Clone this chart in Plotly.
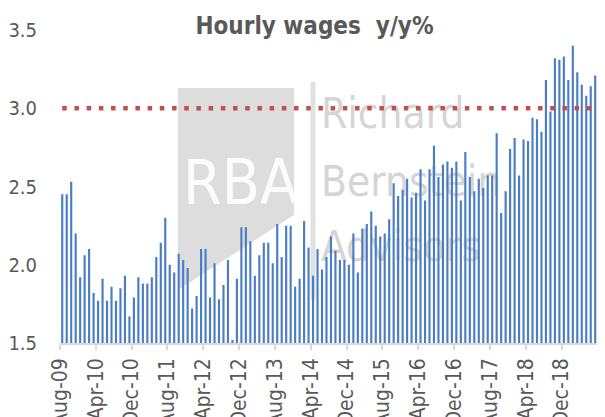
import plotly.graph_objects as go

# ---- data (Aug-09 .. Jul-19, monthly) ----
WAGES_YY = [
    2.45, 2.45, 2.53, 2.20, 1.92, 2.06, 2.10, 1.82, 1.77, 1.91, 1.77, 1.86,
    1.77, 1.85, 1.93, 1.67, 1.79, 1.92, 1.88, 1.88, 1.92, 2.05, 2.14, 2.30,
    2.00, 1.95, 2.07, 2.03, 1.98, 1.72, 1.80, 2.10, 2.10, 1.79, 2.01, 1.78,
    1.87, 2.03, 1.52, 1.91, 2.24, 2.24, 2.15, 1.93, 2.06, 2.14, 2.14, 2.01,
    2.26, 2.05, 2.25, 2.25, 1.86, 1.91, 2.28, 2.11, 1.93, 2.10, 1.97, 2.05,
    2.18, 2.09, 2.03, 2.03, 2.00, 2.20, 1.95, 2.23, 2.26, 2.34, 2.25, 2.18,
    2.20, 2.29, 2.52, 2.44, 2.48, 2.55, 2.43, 2.46, 2.61, 2.41, 2.61, 2.76,
    2.56, 2.64, 2.66, 2.62, 2.66, 2.41, 2.72, 2.56, 2.47, 2.55, 2.49, 2.57,
    2.57, 2.84, 2.33, 2.47, 2.74, 2.81, 2.57, 2.80, 2.79, 2.94, 2.93, 2.85,
    3.18, 2.98, 3.32, 3.31, 3.33, 3.18, 3.40, 3.23, 3.15, 3.08, 3.14, 3.21,
]
THRESHOLD = 3.0
TICK_EVERY = 8
TICK_LABELS = ["Aug-09", "Apr-10", "Dec-10", "Aug-11", "Apr-12", "Dec-12",
               "Aug-13", "Apr-14", "Dec-14", "Aug-15", "Apr-16", "Dec-16",
               "Aug-17", "Apr-18", "Dec-18"]
Y_TICKS = [1.5, 2.0, 2.5, 3.0, 3.5]
TITLE = "<b>Hourly wages  y/y%</b>"

FONT = "Liberation Sans Narrow, Arial Narrow, DejaVu Sans Condensed, sans-serif"
GRAY = "#595959"

# page body has an 8px default margin -> figure sized to the visible area
FIG_W, FIG_H = 589, 409
PLOT_W = FIG_W - 52

x_idx = list(range(len(WAGES_YY)))

fig = go.Figure()
fig.add_trace(go.Bar(
    x=x_idx, y=WAGES_YY, marker=dict(color="#4a7dc4", line=dict(width=0)),
    showlegend=False, hoverinfo="y",
))
fig.add_trace(go.Scatter(
    x=x_idx, y=[THRESHOLD] * len(x_idx), mode="lines",
    line=dict(color="#c0504d", width=4.5, dash="4.5px,7.7px"),
    showlegend=False, hoverinfo="skip",
))

# ---- watermark (drawn beneath the bars); coords given in screen px ----
def px2paper(px, py):
    return (px - 60) / float(PLOT_W), (343 - py) / 313.0

x0, y0 = px2paper(178, 88)
x1, y1 = px2paper(294, 215)
_, y2 = px2paper(178, 290)
fig.add_shape(type="path", xref="paper", yref="paper", layer="below",
              path=f"M {x0},{y0} L {x1},{y0} L {x1},{y1} L {x0},{y2} Z",
              fillcolor="rgba(150,150,150,0.32)", line=dict(width=0))
lx, ly0 = px2paper(313, 82)
_, ly1 = px2paper(313, 300)
fig.add_shape(type="line", xref="paper", yref="paper", layer="below",
              x0=lx, x1=lx, y0=ly0, y1=ly1,
              line=dict(color="rgba(200,200,200,0.55)", width=5))

def wm_label(text, left_px, cy_px, size, color, weight="normal"):
    ax0, ay = px2paper(left_px, cy_px)
    ax1, _ = px2paper(left_px + 200, cy_px)
    fig.add_shape(type="rect", xref="paper", yref="paper", layer="below",
                  x0=ax0, x1=ax1, y0=ay - 0.05, y1=ay + 0.05,
                  line=dict(width=0), fillcolor="rgba(0,0,0,0)",
                  label=dict(text=text, textposition="middle left", padding=0,
                             font=dict(family=FONT, size=size, color=color,
                                       weight=weight)))

wm_label("RBA", 180, 178, 62, "rgba(255,255,255,0.9)", weight=300)
wm_label("Richard", 318, 110, 42, "rgba(185,185,185,0.6)")
wm_label("Bernstein", 318, 178, 42, "rgba(185,185,185,0.6)")
wm_label("Advisors", 318, 243, 42, "rgba(185,185,185,0.6)")

fig.update_layout(
    width=FIG_W, height=FIG_H, autosize=False,
    margin=dict(l=52, r=0, t=22, b=FIG_H - 335),
    paper_bgcolor="white", plot_bgcolor="white",
    bargap=0.52,
    title=dict(text=TITLE, x=306.5 / FIG_W, xanchor="center",
               y=1 - 18.0 / FIG_H, yanchor="middle",
               yref="container", font=dict(family=FONT, size=24, color=GRAY)),
    font=dict(family=FONT, color=GRAY),
)
fig.update_xaxes(
    automargin=False,
    range=[-0.5, len(WAGES_YY) - 0.6],
    tickmode="array",
    tickvals=[i - 0.5 for i in range(0, len(WAGES_YY), TICK_EVERY)][:len(TICK_LABELS)],
    ticktext=TICK_LABELS,
    tickangle=-90, tickfont=dict(family=FONT, size=21, color=GRAY),
    ticks="outside", ticklen=5, tickwidth=1.5, tickcolor="#d9d9d9",
    showline=True, linecolor="#d9d9d9", linewidth=1.5,
    showgrid=False, zeroline=False,
)
fig.update_yaxes(
    automargin=False,
    range=[1.5, 3.5], tickmode="array", tickvals=Y_TICKS,
    tickformat=".1f", tickfont=dict(family=FONT, size=20, color=GRAY),
    showgrid=False, showline=False, zeroline=False, ticks="",
    ticklabelstandoff=22,
)

fig.write_html("out.html")
